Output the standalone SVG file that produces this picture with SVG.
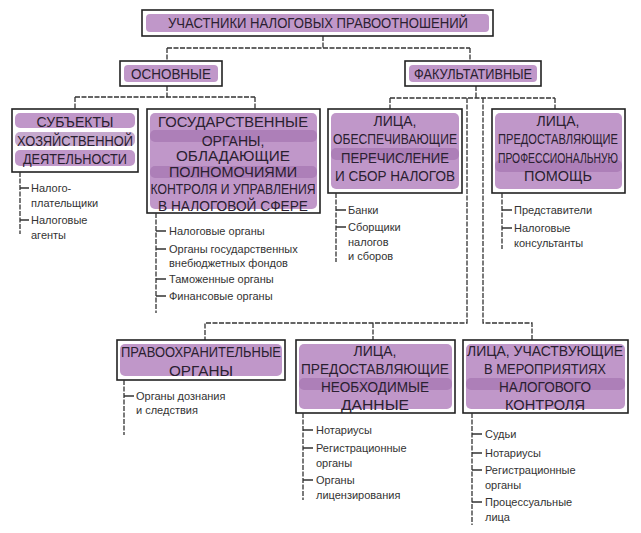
<svg xmlns="http://www.w3.org/2000/svg" width="641" height="533" viewBox="0 0 641 533">
<style>
.box{fill:#fff;stroke:#222;stroke-width:1.6}
.hl{fill:#b585bf;opacity:0.85}
.hl2{fill:#a070ad;opacity:0.6}
.bt{font-family:"Liberation Sans","DejaVu Sans",sans-serif;font-size:14px;fill:#2a2030;text-anchor:middle}
.it{font-family:"Liberation Sans","DejaVu Sans",sans-serif;font-size:11px;fill:#333}
.ln{stroke:#333;stroke-width:1.3;fill:none;stroke-dasharray:5 1.5}
.tk{stroke:#333;stroke-width:1.5}
</style>
<rect width="641" height="533" fill="#fff"/>
<g id="connectors">
<path class="ln" d="M323 36V48M167 48H470M167 48V61M470 48V61"/>
<path class="ln" d="M167 86V97M75 97H255M75 97V109M255 97V109"/>
<path class="ln" d="M476 86V98M390 98H555M390 98V109M555 98V109"/>
<path class="ln" d="M467 98V323H205V340M373 323V340M483 98V323H532V340"/>
</g>
<g id="title">
<rect class="box" x="142" y="10" width="351" height="26"/>
<rect class="hl" x="146" y="14" width="343" height="18" rx="4"/>
<text class="bt" x="318" y="28" textLength="300" lengthAdjust="spacingAndGlyphs">УЧАСТНИКИ НАЛОГОВЫХ ПРАВООТНОШЕНИЙ</text>
</g>
<g id="osnovnye">
<rect class="box" x="120" y="61" width="102" height="25"/>
<rect class="hl" x="124" y="65" width="94" height="17" rx="4"/>
<text class="bt" x="171" y="79" textLength="80" lengthAdjust="spacingAndGlyphs">ОСНОВНЫЕ</text>
</g>
<g id="fakult">
<rect class="box" x="405" y="61" width="136" height="25"/>
<rect class="hl" x="409" y="65" width="128" height="17" rx="4"/>
<text class="bt" x="473" y="79" textLength="118" lengthAdjust="spacingAndGlyphs">ФАКУЛЬТАТИВНЫЕ</text>
</g>
<g id="subjekty">
<rect class="box" x="12" y="109" width="126" height="63"/>
<rect class="hl" x="15" y="113" width="120" height="15" rx="5"/>
<rect class="hl2" x="15" y="132" width="120" height="14" rx="5"/>
<rect class="hl" x="15" y="150" width="120" height="16" rx="5"/>
<text class="bt" x="75" y="127">СУБЪЕКТЫ</text>
<text class="bt" x="75" y="146" textLength="116" lengthAdjust="spacingAndGlyphs">ХОЗЯЙСТВЕННОЙ</text>
<text class="bt" x="75" y="164" textLength="104" lengthAdjust="spacingAndGlyphs">ДЕЯТЕЛЬНОСТИ</text>
</g>
<g id="gos">
<rect class="box" x="147" y="109" width="173" height="104"/>
<rect class="hl" x="150" y="113" width="167" height="96" rx="5"/>
<rect class="hl2" x="150" y="130" width="167" height="12" rx="5"/>
<rect class="hl2" x="150" y="166" width="167" height="12" rx="5"/>
<text class="bt" x="233" y="127" textLength="150" lengthAdjust="spacingAndGlyphs">ГОСУДАРСТВЕННЫЕ</text>
<text class="bt" x="233" y="146">ОРГАНЫ,</text>
<text class="bt" x="233" y="161" textLength="114" lengthAdjust="spacingAndGlyphs">ОБЛАДАЮЩИЕ</text>
<text class="bt" x="233" y="177" textLength="128" lengthAdjust="spacingAndGlyphs">ПОЛНОМОЧИЯМИ</text>
<text class="bt" x="233" y="194" textLength="165" lengthAdjust="spacingAndGlyphs">КОНТРОЛЯ И УПРАВЛЕНИЯ</text>
<text class="bt" x="233" y="211" textLength="150" lengthAdjust="spacingAndGlyphs">В НАЛОГОВОЙ СФЕРЕ</text>
</g>
<g id="lica1">
<rect class="box" x="328" y="109" width="134" height="84"/>
<rect class="hl" x="331" y="113" width="128" height="76" rx="5"/>
<rect class="hl2" x="331" y="148" width="128" height="12" rx="5"/>
<text class="bt" x="395" y="126">ЛИЦА,</text>
<text class="bt" x="395" y="144" textLength="124" lengthAdjust="spacingAndGlyphs">ОБЕСПЕЧИВАЮЩИЕ</text>
<text class="bt" x="395" y="163" textLength="108" lengthAdjust="spacingAndGlyphs">ПЕРЕЧИСЛЕНИЕ</text>
<text class="bt" x="395" y="181" textLength="120" lengthAdjust="spacingAndGlyphs">И СБОР НАЛОГОВ</text>
</g>
<g id="lica2">
<rect class="box" x="492" y="109" width="133" height="84"/>
<rect class="hl" x="495" y="113" width="127" height="76" rx="5"/>
<rect class="hl2" x="495" y="160" width="127" height="12" rx="5"/>
<text class="bt" x="558" y="126">ЛИЦА,</text>
<text class="bt" x="558" y="144" textLength="120" lengthAdjust="spacingAndGlyphs">ПРЕДОСТАВЛЯЮЩИЕ</text>
<text class="bt" x="558" y="163" textLength="120" lengthAdjust="spacingAndGlyphs">ПРОФЕССИОНАЛЬНУЮ</text>
<text class="bt" x="558" y="181" textLength="68" lengthAdjust="spacingAndGlyphs">ПОМОЩЬ</text>
</g>
<g id="pravo">
<rect class="box" x="117" y="340" width="168" height="40"/>
<rect class="hl" x="120" y="344" width="162" height="32" rx="5"/>
<text class="bt" x="201" y="357" textLength="160" lengthAdjust="spacingAndGlyphs">ПРАВООХРАНИТЕЛЬНЫЕ</text>
<text class="bt" x="201" y="376" textLength="64" lengthAdjust="spacingAndGlyphs">ОРГАНЫ</text>
</g>
<g id="lica3">
<rect class="box" x="296" y="340" width="159" height="73"/>
<rect class="hl" x="299" y="344" width="153" height="65" rx="5"/>
<rect class="hl2" x="299" y="378" width="153" height="12" rx="5"/>
<text class="bt" x="375" y="356">ЛИЦА,</text>
<text class="bt" x="375" y="374" textLength="148" lengthAdjust="spacingAndGlyphs">ПРЕДОСТАВЛЯЮЩИЕ</text>
<text class="bt" x="375" y="392" textLength="108" lengthAdjust="spacingAndGlyphs">НЕОБХОДИМЫЕ</text>
<text class="bt" x="375" y="410" textLength="68" lengthAdjust="spacingAndGlyphs">ДАННЫЕ</text>
</g>
<g id="lica4">
<rect class="box" x="463" y="340" width="165" height="73"/>
<rect class="hl" x="466" y="344" width="159" height="65" rx="5"/>
<rect class="hl2" x="466" y="378" width="159" height="12" rx="5"/>
<text class="bt" x="545" y="356" textLength="156" lengthAdjust="spacingAndGlyphs">ЛИЦА, УЧАСТВУЮЩИЕ</text>
<text class="bt" x="545" y="374" textLength="122" lengthAdjust="spacingAndGlyphs">В МЕРОПРИЯТИЯХ</text>
<text class="bt" x="545" y="392" textLength="92" lengthAdjust="spacingAndGlyphs">НАЛОГОВОГО</text>
<text class="bt" x="545" y="410" textLength="80" lengthAdjust="spacingAndGlyphs">КОНТРОЛЯ</text>
</g>
<g id="list-a">
<path class="ln" d="M20 172V234"/>
<path class="tk" d="M20 188H29M20 220H29"/>
<text class="it" x="31" y="192">Налого-</text>
<text class="it" x="31" y="207">плательщики</text>
<text class="it" x="31" y="224">Налоговые</text>
<text class="it" x="31" y="239">агенты</text>
</g>
<g id="list-b">
<path class="ln" d="M156 213V313"/>
<path class="tk" d="M156 231H166M156 249H166M156 279H166M156 296H166"/>
<text class="it" x="169" y="235">Налоговые органы</text>
<text class="it" x="169" y="253">Органы государственных</text>
<text class="it" x="169" y="267">внебюджетных фондов</text>
<text class="it" x="169" y="283">Таможенные органы</text>
<text class="it" x="169" y="300">Финансовые органы</text>
</g>
<g id="list-c">
<path class="ln" d="M336 193V262"/>
<path class="tk" d="M336 210H346M336 227H346"/>
<text class="it" x="348" y="214">Банки</text>
<text class="it" x="348" y="231">Сборщики</text>
<text class="it" x="348" y="246">налогов</text>
<text class="it" x="348" y="260">и сборов</text>
</g>
<g id="list-d">
<path class="ln" d="M502 193V249"/>
<path class="tk" d="M502 210H512M502 228H512"/>
<text class="it" x="514" y="214">Представители</text>
<text class="it" x="514" y="232">Налоговые</text>
<text class="it" x="514" y="247">консультанты</text>
</g>
<g id="list-e">
<path class="ln" d="M124 380V435"/>
<path class="tk" d="M124 396H134"/>
<text class="it" x="136" y="400">Органы дознания</text>
<text class="it" x="136" y="414">и следствия</text>
</g>
<g id="list-f">
<path class="ln" d="M303 413V500"/>
<path class="tk" d="M303 430H313M303 448H313M303 480H313"/>
<text class="it" x="316" y="434">Нотариусы</text>
<text class="it" x="316" y="452">Регистрационные</text>
<text class="it" x="316" y="467">органы</text>
<text class="it" x="316" y="484">Органы</text>
<text class="it" x="316" y="499">лицензирования</text>
</g>
<g id="list-g">
<path class="ln" d="M472 413V525"/>
<path class="tk" d="M472 434H482M472 453H482M472 470H482M472 502H482"/>
<text class="it" x="485" y="438">Судьи</text>
<text class="it" x="485" y="457">Нотариусы</text>
<text class="it" x="485" y="474">Регистрационные</text>
<text class="it" x="485" y="489">органы</text>
<text class="it" x="485" y="506">Процессуальные</text>
<text class="it" x="485" y="521">лица</text>
</g>
</svg>
